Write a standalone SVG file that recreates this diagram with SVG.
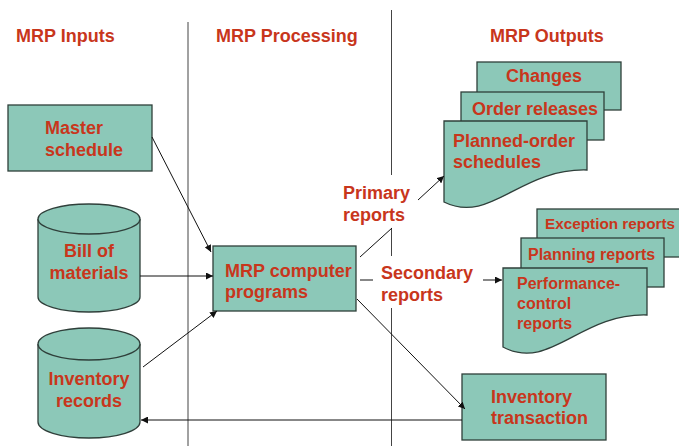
<svg xmlns="http://www.w3.org/2000/svg" width="679" height="446" viewBox="0 0 679 446">
<defs>
<marker id="ah" viewBox="0 0 10 10" refX="10" refY="5" markerWidth="7" markerHeight="7" markerUnits="userSpaceOnUse" orient="auto">
<path d="M0,0 L10,5 L0,10 Z" fill="#111"/>
</marker>
<style>
.shape{fill:#8cc8b8;stroke:#2f3f3a;stroke-width:1.3}
.t{font-family:"Liberation Sans",Arial,sans-serif;font-weight:bold;fill:#c8361c;font-size:18px}
.s15{font-size:15.3px}
.s16{font-size:16px}
.div{stroke:#444;stroke-width:1;fill:none}
.c{stroke:#111;stroke-width:1;fill:none}
.ca{stroke:#111;stroke-width:1;fill:none;marker-end:url(#ah)}
</style>
</defs>
<rect width="679" height="446" fill="#fff"/>
<g id="dividers">
<line class="div" x1="188" y1="22" x2="188" y2="446"/>
<line class="div" x1="391.5" y1="10" x2="391.5" y2="175"/>
<line class="div" x1="391.5" y1="228" x2="391.5" y2="256"/>
<line class="div" x1="391.5" y1="308" x2="391.5" y2="446"/>
</g>
<g id="headers">
<text class="t" x="16" y="42">MRP Inputs</text>
<text class="t" x="216" y="42">MRP Processing</text>
<text class="t" x="490" y="42">MRP Outputs</text>
</g>
<g id="master-schedule">
<rect class="shape" x="8" y="105" width="144" height="66"/>
<text class="t" x="45" y="134">Master</text>
<text class="t" x="45" y="156">schedule</text>
</g>
<g id="bill-of-materials">
<path class="shape" d="M38,219 V297 A51,15 0 0 0 140,297 V219"/>
<ellipse class="shape" cx="89" cy="219" rx="51" ry="15"/>
<text class="t" x="89" y="257" text-anchor="middle">Bill of</text>
<text class="t" x="89" y="279" text-anchor="middle">materials</text>
</g>
<g id="inventory-records">
<path class="shape" d="M38,344 V422 A51,16 0 0 0 140,422 V344"/>
<ellipse class="shape" cx="89" cy="344" rx="51" ry="16"/>
<text class="t" x="89" y="385" text-anchor="middle">Inventory</text>
<text class="t" x="89" y="407" text-anchor="middle">records</text>
</g>
<g id="mrp-computer-programs">
<rect class="shape" x="213" y="246" width="143" height="65"/>
<text class="t" x="225" y="277">MRP computer</text>
<text class="t" x="225" y="298">programs</text>
</g>
<g id="primary-reports">
<text class="t" x="343" y="199">Primary</text>
<text class="t" x="343" y="221">reports</text>
</g>
<g id="secondary-reports">
<text class="t" x="381" y="279">Secondary</text>
<text class="t" x="381" y="301">reports</text>
</g>
<g id="inventory-transaction">
<rect class="shape" x="462" y="374" width="144" height="66"/>
<text class="t" x="491" y="403">Inventory</text>
<text class="t" x="491" y="424">transaction</text>
</g>
<g id="changes">
<rect class="shape" x="477" y="62" width="144" height="48"/>
<text class="t" x="544" y="82" text-anchor="middle">Changes</text>
</g>
<g id="order-releases">
<rect class="shape" x="461" y="92" width="143" height="48"/>
<text class="t" x="472" y="115">Order releases</text>
</g>
<g id="planned-order-schedules">
<path class="shape" d="M444,121 H587 V170 C520,168 490,225 444,202 Z"/>
<text class="t" x="453" y="147">Planned-order</text>
<text class="t" x="453" y="168">schedules</text>
</g>
<g id="exception-reports">
<rect class="shape" x="537" y="209" width="146" height="48"/>
<text class="t s15" x="545" y="229">Exception reports</text>
</g>
<g id="planning-reports">
<rect class="shape" x="521" y="238" width="143" height="49"/>
<text class="t s16" x="528" y="260">Planning reports</text>
</g>
<g id="performance-control-reports">
<path class="shape" d="M503,268 H647 V315 C580,313 550,372 503,347 Z"/>
<text class="t s16" x="517" y="289">Performance-</text>
<text class="t s16" x="517" y="309">control</text>
<text class="t s16" x="517" y="329">reports</text>
</g>
<g id="connectors">
<line class="ca" x1="152" y1="137" x2="211" y2="252"/>
<line class="ca" x1="140" y1="276" x2="213" y2="276"/>
<line class="ca" x1="143" y1="367" x2="217" y2="311"/>
<line class="c" x1="360" y1="257" x2="392" y2="228"/>
<line class="ca" x1="418" y1="200" x2="444" y2="176"/>
<line class="c" x1="360" y1="280" x2="373" y2="280"/>
<line class="ca" x1="483" y1="280" x2="502" y2="280"/>
<line class="ca" x1="357" y1="299" x2="465" y2="409"/>
<line class="ca" x1="462" y1="420" x2="141" y2="420"/>
</g>
</svg>
